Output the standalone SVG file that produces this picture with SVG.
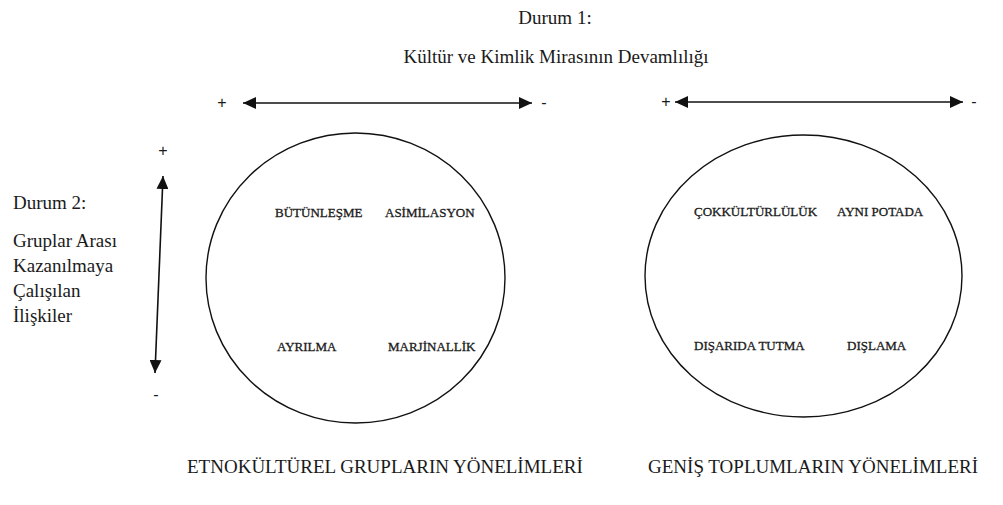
<svg xmlns="http://www.w3.org/2000/svg" width="1003" height="505" viewBox="0 0 1003 505">
<style>
text{fill:#1a1a1a}
.t{font-size:19px}
.l{font-size:13px;stroke:#1a1a1a;stroke-width:0.3}
.s{font-size:16px}
.e{fill:none;stroke:#111;stroke-width:1.4}
.a{stroke:#111;stroke-width:1.6;fill:none;marker-start:url(#ah);marker-end:url(#ah)}
</style>
<defs>
<marker id="ah" markerUnits="userSpaceOnUse" markerWidth="14" markerHeight="12" refX="13" refY="6" orient="auto-start-reverse">
<path d="M0,0 L13,6 L0,12 Z" fill="#111"/>
</marker>
</defs>
<rect width="1003" height="505" fill="#fff"/>
<g font-family="Liberation Serif, DejaVu Serif, serif">
<g id="title">
<text class="t" x="555" y="24" text-anchor="middle">Durum 1:</text>
<text class="t" x="556" y="63" text-anchor="middle">Kültür ve Kimlik Mirasının Devamlılığı</text>
</g>
<g id="durum2">
<text class="t" x="13" y="209">Durum 2:</text>
<text class="t" x="13" y="247">Gruplar Arası</text>
<text class="t" x="13" y="272">Kazanılmaya</text>
<text class="t" x="13" y="297">Çalışılan</text>
<text class="t" x="13" y="322">İlişkiler</text>
</g>
<g id="connectors">
<line class="a" x1="243" y1="103" x2="532" y2="103"/>
<line class="a" x1="675" y1="102" x2="963" y2="102"/>
<line class="a" x1="163" y1="176" x2="155" y2="373"/>
</g>
<g id="signs" font-family="Liberation Sans, Arial, sans-serif">
<text class="s" x="222" y="108" text-anchor="middle">+</text>
<text class="s" x="544" y="108" text-anchor="middle">-</text>
<text class="s" x="666" y="107" text-anchor="middle">+</text>
<text class="s" x="974" y="107" text-anchor="middle">-</text>
<text class="s" x="163" y="156" text-anchor="middle">+</text>
<text class="s" x="156" y="400" text-anchor="middle">-</text>
</g>
<g id="ethnocultural">
<ellipse class="e" cx="355.5" cy="278" rx="149.5" ry="145"/>
<text class="l" x="275" y="217">BÜTÜNLEŞME</text>
<text class="l" x="385" y="217">ASİMİLASYON</text>
<text class="l" x="277" y="351">AYRILMA</text>
<text class="l" x="388" y="351">MARJİNALLİK</text>
</g>
<g id="society">
<ellipse class="e" cx="803.5" cy="276" rx="158.5" ry="141"/>
<text class="l" x="694" y="216">ÇOKKÜLTÜRLÜLÜK</text>
<text class="l" x="837" y="216">AYNI POTADA</text>
<text class="l" x="694" y="350">DIŞARIDA TUTMA</text>
<text class="l" x="847" y="350">DIŞLAMA</text>
</g>
<g id="captions">
<text class="t" x="187" y="473">ETNOKÜLTÜREL GRUPLARIN YÖNELİMLERİ</text>
<text class="t" x="648" y="473">GENİŞ TOPLUMLARIN YÖNELİMLERİ</text>
</g>
</g>
</svg>
